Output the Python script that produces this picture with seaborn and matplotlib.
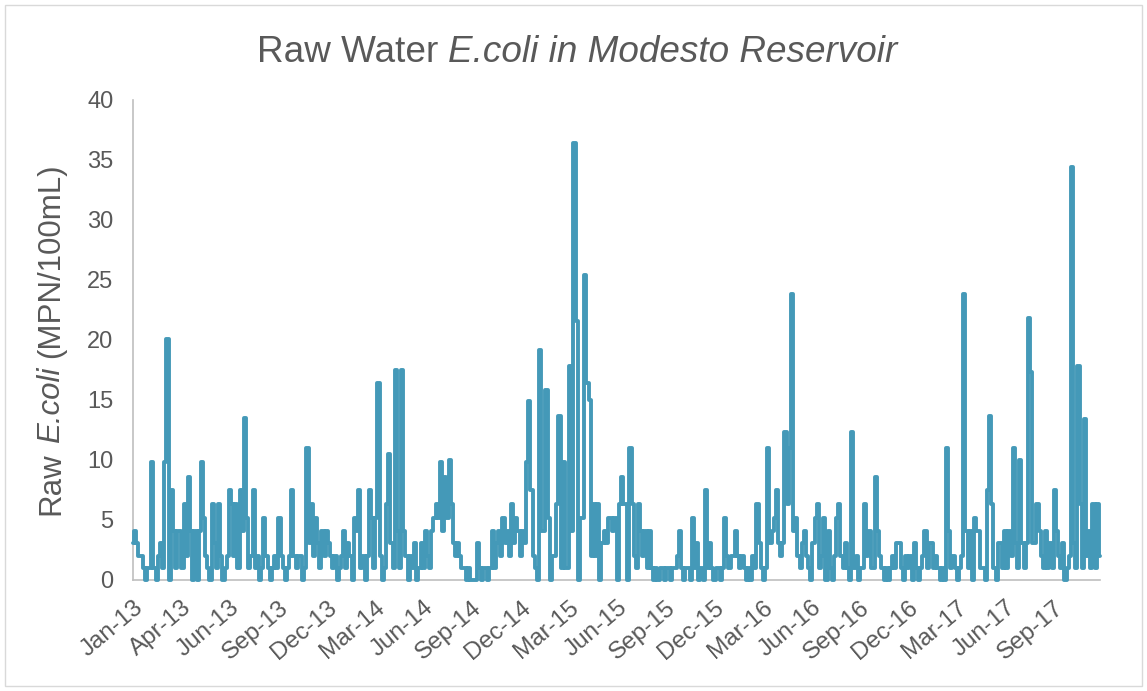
import matplotlib
matplotlib.use("Agg")
import matplotlib.pyplot as plt
import matplotlib.dates as mdates
from matplotlib.patches import Rectangle
import numpy as np
import pandas as pd
import seaborn as sns

# Raw-water E. coli results (MPN/100 mL), one reading every 4 days from 1 Jan 2013
ecoli_2013 = [3.1, 4.1, 3.1, 2, 2, 1, 0, 1, 1, 9.8,
              1, 0, 2, 3.1, 1, 9.8, 20.1, 0, 7.5, 4.1,
              1, 4.1, 4.1, 1, 6.3, 2, 8.6, 4.1, 0, 4.1,
              0, 4.1, 9.8, 5.2, 2, 1, 0, 6.3, 3.1, 1,
              6.3, 2, 0, 1, 2, 7.5, 6.3, 2, 6.3, 1,
              7.5, 4.1, 13.5, 5.2, 1, 2, 7.5, 1, 2, 0,
              1, 5.2, 2, 1, 0, 1, 2, 1, 5.2, 2,
              1, 0, 1, 2, 7.5, 2, 1, 2, 2, 0,
              1, 11.0, 3.1, 6.3, 2, 5.2, 3.1, 1, 4.1, 2,
              4.1, 3.1]

ecoli_2014 = [2, 1, 2, 0, 1, 2, 4.1, 1, 3.1, 2,
              0, 5.2, 4.1, 7.5, 1, 2, 0, 2, 7.5, 5.2,
              1, 5.2, 16.4, 2, 0, 1, 6.3, 10.5, 3.1, 1,
              17.5, 4.1, 1, 17.5, 4.1, 2, 0, 2, 1, 3.1,
              0, 1, 3.1, 1, 4.1, 2, 1, 4.1, 5.2, 6.3,
              5.2, 9.8, 4.1, 8.6, 5.2, 10.0, 6.3, 3.1, 2, 3.1,
              2, 1, 1, 0, 1, 0, 0, 0, 3.1, 1,
              0, 1, 1, 0, 1, 4.1, 1, 3.1, 4.1, 2,
              5.2, 3.1, 4.1, 2, 6.3, 3.1, 5.2, 4.1, 2, 4.1,
              3.1]

ecoli_2015 = [9.8, 14.9, 7.5, 2, 1, 0, 19.2, 4.1, 4.1, 15.8,
              5.2, 0, 2, 2, 6.3, 13.7, 1, 9.8, 1, 1,
              17.8, 4.1, 36.4, 21.6, 0, 5.2, 5.2, 25.4, 16.4, 15.0,
              2, 6.3, 2, 6.3, 0, 3.1, 4.1, 3.1, 5.2, 5.2,
              4.1, 5.2, 0, 6.3, 8.6, 6.3, 6.3, 0, 11.0, 6.3,
              2, 1, 6.3, 4.1, 2, 4.1, 1, 4.1, 1, 0,
              1, 0, 1, 1, 0, 1, 1, 0, 1, 1,
              2, 4.1, 1, 0, 1, 1, 0, 5.2, 1, 3.1,
              0, 1, 0, 7.5, 1, 3.1, 1, 0, 1, 1,
              0]

ecoli_2016 = [1, 5.2, 2, 1, 2, 2, 4.1, 2, 1, 2,
              1, 0, 1, 0, 2, 1, 6.3, 3.1, 1, 0,
              1, 11.0, 3.1, 4.1, 5.2, 7.5, 3.1, 2, 3.1, 12.3,
              6.3, 11.0, 23.8, 4.1, 5.2, 2, 1, 3.1, 4.1, 2,
              1, 0, 3.1, 5.2, 6.3, 1, 2, 5.2, 0, 4.1,
              1, 0, 2, 5.2, 6.3, 2, 1, 3.1, 1, 0,
              12.3, 1, 2, 0, 1, 1, 6.3, 2, 4.1, 1,
              1, 8.6, 4.1, 2, 1, 0, 1, 0, 1, 2,
              1, 3.1, 3.1, 1, 0, 2, 1, 2, 0, 3.1,
              1, 0]

ecoli_2017 = [1, 2, 4.1, 1, 3.1, 3.1, 1, 2, 1, 0,
              1, 0, 11.0, 4.1, 1, 2, 1, 0, 1, 2,
              23.8, 4.1, 1, 4.1, 0, 5.2, 4.1, 4.1, 1, 1,
              0, 7.5, 13.7, 6.3, 1, 0, 3.1, 3.1, 1, 4.1,
              1, 4.1, 2, 11.0, 3.1, 1, 10.0, 3.1, 1, 3.1,
              21.8, 17.3, 3.1, 3.1, 6.3, 4.1, 2, 1, 4.1, 1,
              3.1, 1, 7.5, 4.1, 2, 1, 3.1, 0, 1, 2,
              34.4, 3.1, 1, 17.8, 6.3, 1, 13.4, 2, 4.1, 1,
              6.3, 1, 6.3, 2]

start_date = "2013-01-01"
sample_step = "4D"
tick_step = "90D"
tick_count = 20
y_ticks = list(range(0, 41, 5))

title_parts = [("Raw Water", "normal"), ("E.coli in Modesto Reservoir", "italic")]
ylabel_parts = [("Raw", "normal"), ("E.coli", "italic"), ("(MPN/100mL)", "normal")]

values = ecoli_2013 + ecoli_2014 + ecoli_2015 + ecoli_2016 + ecoli_2017
dates = pd.date_range(start_date, periods=len(values), freq=sample_step)
df = pd.DataFrame({"date": dates, "ecoli": values})

LINE = "#4499B8"
TEXT = "#595959"
AXIS = "#BFBFBF"

sns.set_theme(style="white")
plt.rcParams["font.family"] = ["Liberation Sans", "DejaVu Sans"]

W, H = 1147, 691
fig = plt.figure(figsize=(W / 100, H / 100), dpi=100)
fig.patch.set_facecolor("white")
ax = fig.add_axes([133 / W, (H - 580) / H, 967 / W, 480 / H])

sns.lineplot(data=df, x="date", y="ecoli", ax=ax, color=LINE, linewidth=2.8,
             estimator=None, drawstyle="steps-mid",
             solid_capstyle="round", solid_joinstyle="round",
             clip_on=False, zorder=3)

ax.set_ylim(0, 40)
ax.set_yticks(y_ticks)
ax.set_yticklabels([str(v) for v in y_ticks])
ax.set_xlim(mdates.date2num(dates[0].to_pydatetime()),
            mdates.date2num(dates[-1].to_pydatetime()))

tick_dates = pd.date_range(start_date, periods=tick_count, freq=tick_step)
ax.set_xticks(mdates.date2num(tick_dates.to_pydatetime()))
ax.set_xticklabels([d.strftime("%b-%y") for d in tick_dates],
                   rotation=40, ha="right", va="top", rotation_mode="anchor")

ax.set_xlabel("")
ax.set_ylabel("")
ax.grid(False)
for side in ("top", "right"):
    ax.spines[side].set_visible(False)
for side in ("left", "bottom"):
    ax.spines[side].set_color(AXIS)
    ax.spines[side].set_linewidth(1.2)

ax.tick_params(axis="x", direction="in", length=5, width=1, color=AXIS,
               labelsize=17.5, labelcolor=TEXT, pad=12)
ax.tick_params(axis="y", length=0, labelsize=17, labelcolor=TEXT, pad=14)

renderer = fig.canvas.get_renderer()


def text_width(s, size, style, vertical=False):
    t = fig.text(0, 0, s, fontsize=size, style=style, rotation=90 if vertical else 0)
    bb = t.get_window_extent(renderer)
    t.remove()
    return bb.height if vertical else bb.width


def mixed_text(parts, size, cx, cy, vertical=False):
    """Lay out differently styled runs of text along one baseline."""
    space = text_width("x x", size, "normal", vertical) - text_width("xx", size, "normal", vertical)
    widths = [text_width(s, size, st, vertical) for s, st in parts]
    total = sum(widths) + space * (len(parts) - 1)
    pos = (cy - total / 2) if vertical else (cx - total / 2)
    for (s, st), w in zip(parts, widths):
        if vertical:
            fig.text(cx / W, pos / H, s, fontsize=size, style=st, color=TEXT,
                     rotation=90, rotation_mode="anchor", ha="left", va="baseline")
        else:
            fig.text(pos / W, cy / H, s, fontsize=size, style=st, color=TEXT,
                     ha="left", va="baseline")
        pos += w + space


# title: baseline in pixels from the bottom of the figure
mixed_text(title_parts, 26.6, 577, H - 62)
# y-axis title: vertical baseline at x = 59 px, centred on the plot area
mixed_text(ylabel_parts, 22.5, 59, H - 339, vertical=True)

fig.patches.append(Rectangle((5 / W, 5 / H), (1142 - 5) / W, (686 - 5) / H,
                             transform=fig.transFigure, fill=False,
                             edgecolor="#D9D9D9", linewidth=1.0))

fig.savefig("out.png", dpi=100, facecolor="white")
